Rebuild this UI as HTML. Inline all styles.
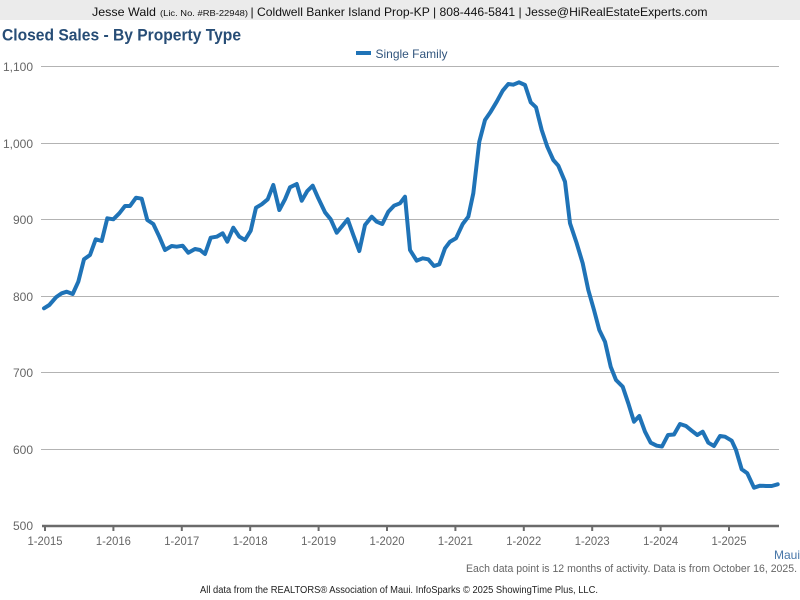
<!DOCTYPE html>
<html>
<head>
<meta charset="utf-8">
<style>
  html, body { margin: 0; padding: 0; background: #ffffff; }
  body { width: 800px; height: 600px; overflow: hidden; }
  svg { display: block; }
  text { font-family: "Liberation Sans", Arial, sans-serif; }
</style>
</head>
<body>
<svg width="800" height="600" viewBox="0 0 800 600" xmlns="http://www.w3.org/2000/svg">
  <rect x="0" y="0" width="800" height="600" fill="#ffffff"/>
  <!-- header bar -->
  <rect x="0" y="0" width="800" height="20" fill="#ebebeb"/>
  <text x="92" y="16" font-size="12" fill="#111" textLength="64" lengthAdjust="spacingAndGlyphs">Jesse Wald</text>
  <text x="160" y="16" font-size="8.5" fill="#111" textLength="88" lengthAdjust="spacingAndGlyphs">(Lic. No. #RB-22948)</text>
  <text x="250.5" y="16" font-size="12" fill="#111" textLength="457" lengthAdjust="spacingAndGlyphs">| Coldwell Banker Island Prop-KP | 808-446-5841 | Jesse@HiRealEstateExperts.com</text>

  <!-- title -->
  <text x="2" y="40.5" font-size="17" font-weight="bold" fill="#274d76" textLength="239" lengthAdjust="spacingAndGlyphs">Closed Sales - By Property Type</text>

  <!-- legend -->
  <rect x="356" y="51" width="15" height="4" fill="#1f73b7"/>
  <text x="375.5" y="58" font-size="12" fill="#31557d" textLength="72" lengthAdjust="spacingAndGlyphs">Single Family</text>

  <!-- gridlines -->
  <g stroke="#b3b3b3" stroke-width="1">
    <line x1="41" y1="66.5" x2="779" y2="66.5"/>
    <line x1="41" y1="143.5" x2="779" y2="143.5"/>
    <line x1="41" y1="219.5" x2="779" y2="219.5"/>
    <line x1="41" y1="296.5" x2="779" y2="296.5"/>
    <line x1="41" y1="372.5" x2="779" y2="372.5"/>
    <line x1="41" y1="449.5" x2="779" y2="449.5"/>
  </g>

  <!-- y labels -->
  <g font-size="12" fill="#666" text-anchor="end">
    <text x="33" y="71">1,100</text>
    <text x="33" y="148">1,000</text>
    <text x="33" y="224">900</text>
    <text x="33" y="301">800</text>
    <text x="33" y="377">700</text>
    <text x="33" y="454">600</text>
    <text x="33" y="530">500</text>
  </g>

  <!-- x axis -->
  <line x1="42" y1="526" x2="779" y2="526" stroke="#6b6b6b" stroke-width="2.5"/>
  <g stroke="#6b6b6b" stroke-width="2">
    <line x1="45" y1="526" x2="45" y2="531"/>
    <line x1="113.4" y1="526" x2="113.4" y2="531"/>
    <line x1="181.8" y1="526" x2="181.8" y2="531"/>
    <line x1="250.2" y1="526" x2="250.2" y2="531"/>
    <line x1="318.6" y1="526" x2="318.6" y2="531"/>
    <line x1="387" y1="526" x2="387" y2="531"/>
    <line x1="455.4" y1="526" x2="455.4" y2="531"/>
    <line x1="523.8" y1="526" x2="523.8" y2="531"/>
    <line x1="592.2" y1="526" x2="592.2" y2="531"/>
    <line x1="660.6" y1="526" x2="660.6" y2="531"/>
    <line x1="729" y1="526" x2="729" y2="531"/>
  </g>
  <g font-size="12" fill="#666" text-anchor="middle">
    <text x="45" y="545" textLength="35" lengthAdjust="spacingAndGlyphs">1-2015</text>
    <text x="113.4" y="545" textLength="35" lengthAdjust="spacingAndGlyphs">1-2016</text>
    <text x="181.8" y="545" textLength="35" lengthAdjust="spacingAndGlyphs">1-2017</text>
    <text x="250.2" y="545" textLength="35" lengthAdjust="spacingAndGlyphs">1-2018</text>
    <text x="318.6" y="545" textLength="35" lengthAdjust="spacingAndGlyphs">1-2019</text>
    <text x="387" y="545" textLength="35" lengthAdjust="spacingAndGlyphs">1-2020</text>
    <text x="455.4" y="545" textLength="35" lengthAdjust="spacingAndGlyphs">1-2021</text>
    <text x="523.8" y="545" textLength="35" lengthAdjust="spacingAndGlyphs">1-2022</text>
    <text x="592.2" y="545" textLength="35" lengthAdjust="spacingAndGlyphs">1-2023</text>
    <text x="660.6" y="545" textLength="35" lengthAdjust="spacingAndGlyphs">1-2024</text>
    <text x="729" y="545" textLength="35" lengthAdjust="spacingAndGlyphs">1-2025</text>
  </g>

  <!-- series -->
  <polyline fill="none" stroke="#1f73b7" stroke-width="4" stroke-linejoin="round" stroke-linecap="round"
    points="44,308.3 49.3,305 56,297.3 61.7,293.3 66.7,291.7 72.7,294 78.3,281.7 84,259.3 90,255 95.7,239.3 101.7,241 107.3,218.3 113.3,219.3 119.3,213.3 125,206 130,206 136,197.7 141.7,198.7 147.3,220 153.3,224 159.3,236.7 165,250 171.7,246 176.7,246.7 182.7,245.7 188.3,252.7 195,249 200,250 205,254 210.7,237.7 216.7,236.7 222.7,233.3 227.3,241.7 233.3,227.7 239.3,236.7 245,240 250.7,230.7 256,207.7 261.7,204.3 267.7,199.3 273.3,185 279.3,210 285,199.3 290,187.3 296.7,184 301.7,200.7 307.3,191 312.7,185.7 318.3,198.3 325,212.3 330.7,219.3 336.7,232.7 341.7,226.7 347.7,219.3 353.3,235 359.3,251 365,225 371.7,216.7 376.7,221.7 382.3,224 388.3,211.7 394,205.7 400,203.3 405,196.7 410,250 416.7,260.7 422.7,258.3 428.3,259.3 434,266 439.3,264.3 445,248.3 450,241.7 456,238.3 462.7,224 468.3,216.7 473.3,193.3 479.3,141.7 485,120 490.7,111.7 496.7,101.7 502.7,90.7 508.3,84 513.3,84.7 519,82.3 525,85 530.7,102.3 536,107.3 541.7,130 547.3,146.7 553.3,160 558.3,165.7 565,181.7 570,223.3 576.7,243.3 582.7,263.3 588.3,290 594,310 599.3,330 605,341.7 610.7,366.7 616,380 622.7,386.7 628.3,403.3 634,421.7 639.3,416 645,431.7 650.7,442.7 656.7,445.7 662,446.5 668,435 674,434.5 680,424 686,426 691.7,430.7 697.3,435 702.7,431.7 708.3,442.7 714,446 720,436 725,436.7 731.7,440.7 736,450 741.7,469.3 747.3,473.3 754,487.7 760,485.7 766,486 771.7,486 777.7,484.3"/>

  <!-- footer -->
  <text x="800" y="559" font-size="12" fill="#4776a8" text-anchor="end">Maui</text>
  <text x="797" y="572" font-size="11" fill="#666" text-anchor="end" textLength="331" lengthAdjust="spacingAndGlyphs">Each data point is 12 months of activity. Data is from October 16, 2025.</text>
  <text x="200" y="593" font-size="10" fill="#222" textLength="398" lengthAdjust="spacingAndGlyphs">All data from the REALTORS® Association of Maui. InfoSparks © 2025 ShowingTime Plus, LLC.</text>
</svg>
</body>
</html>
